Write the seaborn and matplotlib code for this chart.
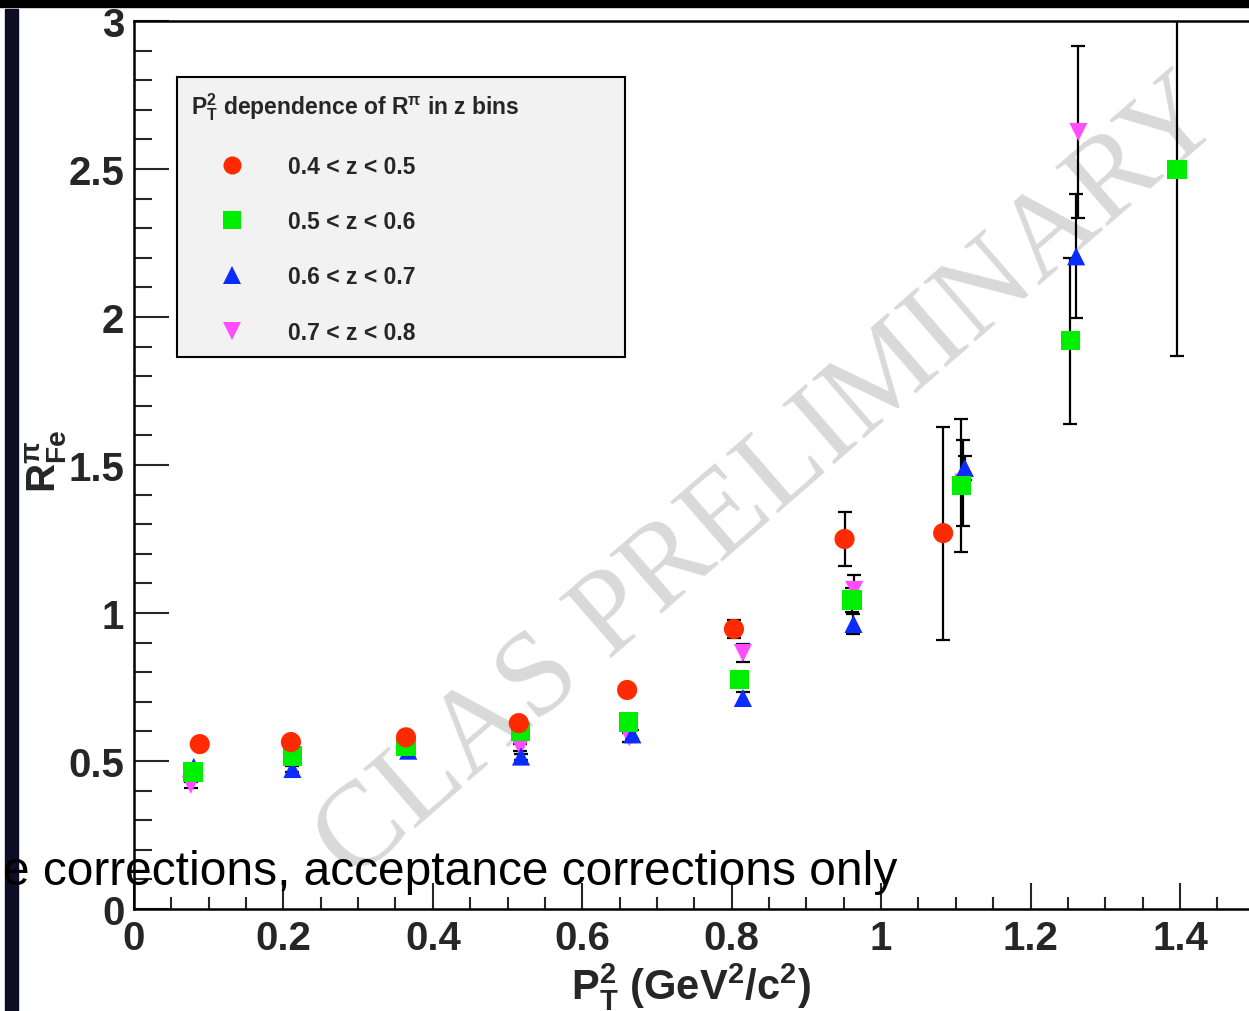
import numpy as np
import pandas as pd
import matplotlib
matplotlib.use("Agg")
import matplotlib.pyplot as plt
import seaborn as sns
from matplotlib.lines import Line2D
from matplotlib.patches import Rectangle
from matplotlib.ticker import MultipleLocator, FormatStrFormatter

# ---------------- data ----------------
bins = ["0.4 < z < 0.5", "0.5 < z < 0.6", "0.6 < z < 0.7", "0.7 < z < 0.8"]

pt2_z45 = [0.088, 0.210, 0.364, 0.515, 0.660, 0.803, 0.951, 1.083]
r_z45 = [0.557, 0.564, 0.580, 0.628, 0.740, 0.946, 1.250, 1.270]
err_z45 = [0.010, 0.010, 0.010, 0.012, 0.015, 0.030, 0.090, 0.360]

pt2_z56 = [0.079, 0.212, 0.364, 0.517, 0.662, 0.810, 0.961, 1.107, 1.253, 1.396]
r_z56 = [0.463, 0.517, 0.550, 0.600, 0.632, 0.774, 1.044, 1.430, 1.920, 2.497]
err_z56 = [0.010, 0.010, 0.010, 0.012, 0.015, 0.020, 0.040, 0.225, 0.280, 0.630]

pt2_z67 = [0.080, 0.212, 0.367, 0.518, 0.667, 0.815, 0.963, 1.112, 1.261]
r_z67 = [0.480, 0.473, 0.535, 0.515, 0.590, 0.713, 0.963, 1.490, 2.205]
err_z67 = [0.010, 0.010, 0.010, 0.010, 0.015, 0.020, 0.035, 0.040, 0.210]

pt2_z78 = [0.076, 0.212, 0.365, 0.517, 0.663, 0.815, 0.964, 1.110, 1.264]
r_z78 = [0.420, 0.510, 0.545, 0.547, 0.580, 0.865, 1.078, 1.440, 2.625]
err_z78 = [0.010, 0.010, 0.010, 0.012, 0.015, 0.030, 0.050, 0.145, 0.290]

xticks = [0, 0.2, 0.4, 0.6, 0.8, 1.0, 1.2, 1.4]
yticks = [0, 0.5, 1.0, 1.5, 2.0, 2.5, 3.0]

colors = {bins[0]: "#ff2a00", bins[1]: "#00ee00", bins[2]: "#0a2cff", bins[3]: "#ff4dff"}
markers = {bins[0]: "o", bins[1]: "s", bins[2]: "^", bins[3]: "v"}
sizes = {bins[0]: 210, bins[1]: 190, bins[2]: 170, bins[3]: 170}

series = [
    (bins[3], pt2_z78, r_z78, err_z78),
    (bins[2], pt2_z67, r_z67, err_z67),
    (bins[1], pt2_z56, r_z56, err_z56),
    (bins[0], pt2_z45, r_z45, err_z45),
]
df = pd.concat(
    [pd.DataFrame({"pt2": x, "R": y, "err": e, "bin": b}) for b, x, y, e in series],
    ignore_index=True,
)

# ---------------- style ----------------
sns.set_theme(style="ticks")
plt.rcParams["font.family"] = ["Liberation Sans", "DejaVu Sans"]
plt.rcParams.update({
    "mathtext.fontset": "custom",
    "mathtext.rm": "Liberation Sans",
    "mathtext.bf": "Liberation Sans:bold",
    "mathtext.it": "Liberation Sans:italic",
    "mathtext.sf": "Liberation Sans",
})

fig = plt.figure(figsize=(12.49, 10.12), dpi=100)
fig.patch.set_facecolor("white")
ax = fig.add_axes([134 / 1249, 1 - 910 / 1012, 1.5 * 747.14 / 1249, 888 / 1012])

# watermark
ax.text(0.852, 1.45, "CLAS PRELIMINARY", rotation=41.0, rotation_mode="anchor",
        ha="center", va="center", fontsize=87, family="Liberation Serif",
        color="#d9d9d9", zorder=1)

# error bars
for b, x, y, e in series:
    ax.errorbar(x, y, yerr=e, fmt="none", ecolor="black", elinewidth=1.6,
                capsize=5, capthick=1.6, zorder=2)

sns.scatterplot(data=df, x="pt2", y="R", hue="bin", style="bin", size="bin",
                palette=colors, markers=markers, sizes=sizes,
                hue_order=bins, style_order=bins, size_order=bins,
                linewidth=0, legend=False, ax=ax, zorder=3)

ax.set_xlim(0, 1.5)
ax.set_ylim(0, 3)
ax.set_xticks(xticks)
ax.set_yticks(yticks)
ax.xaxis.set_major_formatter(FormatStrFormatter("%g"))
ax.yaxis.set_major_formatter(FormatStrFormatter("%g"))
ax.xaxis.set_minor_locator(MultipleLocator(0.05))
ax.yaxis.set_minor_locator(MultipleLocator(0.1))
ax.tick_params(axis="x", which="major", direction="in", length=19, width=1.5, pad=7,
               labelsize=29)
ax.tick_params(axis="x", which="minor", direction="in", length=9, width=1.5)
ax.tick_params(axis="y", which="major", direction="in", length=25, width=1.5, pad=7,
               labelsize=29)
ax.tick_params(axis="y", which="minor", direction="in", length=13, width=1.5)
for lab in ax.get_xticklabels() + ax.get_yticklabels():
    lab.set_fontweight("bold")
for s in ["left", "bottom", "top", "right"]:
    ax.spines[s].set_linewidth(1.8)
    ax.spines[s].set_color("black")

ax.set_xlabel(r"$\mathbf{P^{2}_{T}\ (GeV^{2}/c^{2})}$", fontsize=30)
ax.set_ylabel(r"$\mathbf{R^{\pi}_{Fe}}$", fontsize=29)
ax.xaxis.set_label_coords(0.497, -0.058)
ax.yaxis.set_label_coords(-0.058, 0.505)

# legend
handles = [Line2D([], [], ls="none", marker=markers[b], color=colors[b],
                  markersize=13, markeredgewidth=0) for b in bins]
leg = ax.legend(handles, bins,
                title=r"$\mathbf{P^{2}_{T}}$ dependence of $\mathbf{R^{\pi}}$ in z bins",
                loc="upper left",
                bbox_to_anchor=(177 / 1249, 1 - 78 / 1012 - 0.01, 448 / 1249, 0.01),
                bbox_transform=fig.transFigure, mode="expand", borderaxespad=0,
                prop={"weight": "bold", "size": 16.5},
                title_fontproperties={"weight": "bold", "size": 16.5},
                alignment="left", frameon=True, fancybox=False, framealpha=1,
                facecolor="#f2f2f2", edgecolor="black", borderpad=0.6,
                labelspacing=1.41, handlelength=3.6, handletextpad=0.64)
leg.get_frame().set_linewidth(1.5)
leg.set_zorder(5)

# overlaid slide text
fig.text(897 / 1249, 1 - 885 / 1012, "e corrections, acceptance corrections only",
         ha="right", va="baseline", fontsize=34.5, color="black",
         family="Liberation Sans", zorder=30)

# slide frame bars
fig.patches.append(Rectangle((0, 1 - 8 / 1012), 1, 8 / 1012, transform=fig.transFigure,
                             color="black", zorder=20))
fig.patches.append(Rectangle((5 / 1249, 0), 13 / 1249, 1 - 10 / 1012,
                             transform=fig.transFigure, color="#0d0d25", zorder=20))

fig.savefig("out.png", dpi=100)
